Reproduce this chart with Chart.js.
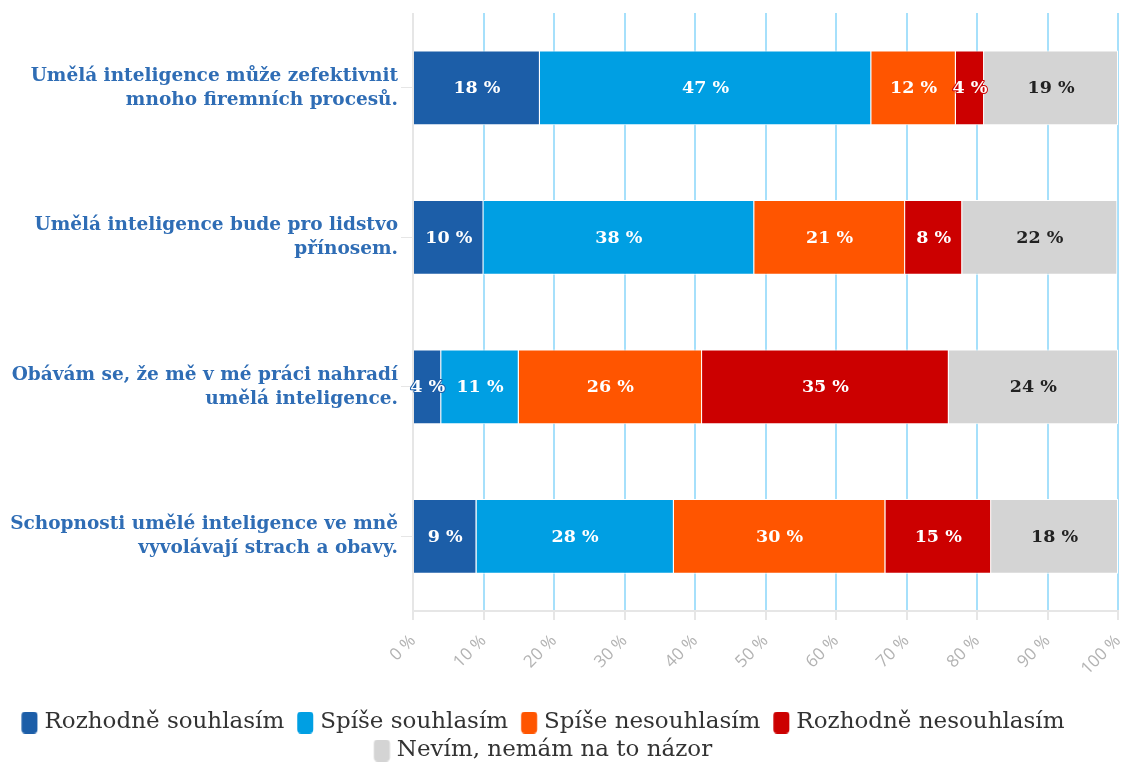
<!DOCTYPE html>
<html>
<head>
<meta charset="utf-8">
<script src="https://cdn.jsdelivr.net/npm/chart.js@4.4.1/dist/chart.umd.min.js"></script>
<style>
  html, body { margin: 0; padding: 0; background: #fff; overflow: hidden; }
  /* a few px taller than the window so the legend sits as low as in the original */
  #wrap { width: 1128px; height: 772px; position: relative; }
</style>
</head>
<body>
<div id="wrap"><canvas id="chart"></canvas></div>
<script>
// Statements (categories)
const statements = [
    ['Umělá inteligence může zefektivnit', 'mnoho firemních procesů.'],
    ['Umělá inteligence bude pro lidstvo', 'přínosem.'],
    ['Obávám se, že mě v mé práci nahradí', 'umělá inteligence.'],
    ['Schopnosti umělé inteligence ve mně', 'vyvolávají strach a obavy.']
];

// Answer shares in % per statement
const rozhodneSouhlasim = [18, 10, 4, 9];
const spiseSouhlasim = [47, 38.4, 11, 28];
const spiseNesouhlasim = [12, 21.4, 26, 30];
const rozhodneNesouhlasim = [4, 8.1, 35, 15];
const nevim = [19, 22, 24, 18];

const xTicks = [0, 10, 20, 30, 40, 50, 60, 70, 80, 90, 100];

const serif = '"DejaVu Serif", "Liberation Serif", serif';

// Legend geometry: font size, row padding, box size, gaps box->text and text->next box
const legendFontSize = 23;
const legendPad = 5;
const boxW = 16, boxH = 22, gapText = 7, gapItem = 13;
const boxStart = gapItem - legendPad;
const markerWidth = boxStart + boxW + gapText - legendFontSize / 2;

// Legend marker: rounded box drawn off-centre in a small canvas so the gaps look like the original
function legendMarker(color) {
    const r0 = boxStart - markerWidth / 2;
    const half = Math.ceil(Math.max(Math.abs(r0), Math.abs(r0 + boxW)));
    const cv = document.createElement('canvas');
    cv.width = half * 2;
    cv.height = boxH;
    const c = cv.getContext('2d');
    c.fillStyle = color;
    c.beginPath();
    c.roundRect(half + r0, 0, boxW, boxH, 4);
    c.fill();
    return cv;
}

// The original legend is centred a bit left of the canvas middle
const legendShift = {
    id: 'legendShift',
    afterLayout(chart) {
        chart.legend.left -= 20;
        chart.legend.right -= 20;
    }
};

// Value labels in the middle of each segment
const segmentLabels = {
    id: 'segmentLabels',
    afterDatasetsDraw(chart) {
        const c = chart.ctx;
        c.save();
        c.font = 'bold 17.5px ' + serif;
        c.textAlign = 'center';
        c.textBaseline = 'middle';
        c.lineJoin = 'round';
        chart.data.datasets.forEach((ds, i) => {
            const meta = chart.getDatasetMeta(i);
            meta.data.forEach((bar, j) => {
                const p = bar.getProps(['x', 'y', 'base'], true);
                const txt = Math.round(ds.data[j]) + ' %';
                const cx = (p.x + p.base) / 2;
                if (ds.labelColor !== '#222') {
                    c.lineWidth = 2;
                    c.strokeStyle = ds.backgroundColor;
                    c.strokeText(txt, cx, p.y + 1);
                }
                c.fillStyle = ds.labelColor;
                c.fillText(txt, cx, p.y + 1);
            });
        });
        c.restore();
    }
};

new Chart(document.getElementById('chart'), {
    type: 'bar',
    data: {
        labels: statements,
        datasets: [
            { label: 'Rozhodně souhlasím', data: rozhodneSouhlasim, backgroundColor: '#1c5ea8', labelColor: '#fff' },
            { label: 'Spíše souhlasím', data: spiseSouhlasim, backgroundColor: '#009fe3', labelColor: '#fff' },
            { label: 'Spíše nesouhlasím', data: spiseNesouhlasim, backgroundColor: '#ff5500', labelColor: '#fff' },
            { label: 'Rozhodně nesouhlasím', data: rozhodneNesouhlasim, backgroundColor: '#cc0000', labelColor: '#fff' },
            { label: 'Nevím, nemám na to názor', data: nevim, backgroundColor: '#d4d4d4', labelColor: '#222' }
        ].map(d => Object.assign(d, {
            borderColor: '#ffffff',
            borderWidth: 1,
            barPercentage: 0.5,
            categoryPercentage: 1
        }))
    },
    options: {
        indexAxis: 'y',
        responsive: true,
        maintainAspectRatio: false,
        animation: false,
        layout: { padding: { top: 13, right: 10, left: 0, bottom: 0 } },
        plugins: {
            legend: {
                position: 'bottom',
                labels: {
                    usePointStyle: true,
                    pointStyleWidth: markerWidth,
                    padding: legendPad,
                    color: '#333',
                    font: { family: serif, size: legendFontSize },
                    generateLabels: (chart) =>
                        Chart.defaults.plugins.legend.labels.generateLabels(chart).map((item, i) =>
                            Object.assign(item, { pointStyle: legendMarker(chart.data.datasets[i].backgroundColor) }))
                }
            },
            tooltip: { enabled: false }
        },
        scales: {
            x: {
                stacked: true,
                min: 0,
                max: 100,
                afterBuildTicks: (scale) => { scale.ticks = xTicks.map(v => ({ value: v })); },
                afterFit: (scale) => {
                    scale.height = 95;
                    scale.paddingLeft = 0;
                    scale.paddingRight = 0;
                },
                grid: {
                    color: (ctx) => ctx.tick && ctx.tick.value === 0 ? '#e6e6e6' : '#a6e0fb',
                    lineWidth: 2,
                    tickColor: '#e6e6e6',
                    tickLength: 9
                },
                border: { color: '#e6e6e6', width: 2 },
                ticks: {
                    minRotation: 45,
                    maxRotation: 45,
                    color: '#b3b3b3',
                    padding: 11,
                    font: { family: '"Open Sans", sans-serif', size: 17 },
                    callback: (v) => v + ' %'
                }
            },
            y: {
                stacked: true,
                afterFit: (scale) => {
                    scale.width = 413;
                    scale.paddingTop = 0;
                    scale.paddingBottom = 0;
                },
                grid: {
                    drawOnChartArea: false,
                    offset: false,
                    color: '#e6e6e6',
                    tickLength: 12
                },
                border: { display: false },
                ticks: {
                    color: '#2f6db5',
                    padding: 3,
                    font: { family: serif, size: 18.5, weight: 'bold', lineHeight: 1.3 }
                }
            }
        }
    },
    plugins: [segmentLabels, legendShift]
});
</script>
</body>
</html>
